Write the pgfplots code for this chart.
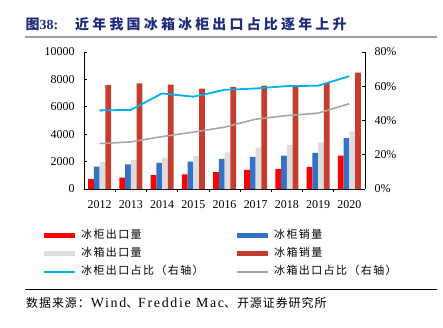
\documentclass[border=0pt]{standalone}
\usepackage{pgfplots}
\usepackage{pgfplotstable}
\pgfplotsset{compat=1.18}
\usepackage{fontspec}
\setmainfont{Liberation Serif}
\newfontfamily\cjk{Noto Sans CJK SC}
\newfontfamily\cjkl[LetterSpace=13]{Noto Sans CJK SC}
\newfontfamily\cjks[LetterSpace=8]{Noto Sans CJK SC}
\newfontfamily\cjkt[LetterSpace=23]{Noto Sans CJK SC}
\newfontfamily\srcl[LetterSpace=12]{Liberation Serif}
\definecolor{cred}{HTML}{FF0000}
\definecolor{cblue}{HTML}{3472C4}
\definecolor{cgray}{HTML}{DDDDDD}
\definecolor{cdred}{HTML}{C43D2E}
\definecolor{lblue}{HTML}{00B0F0}
\definecolor{lgray}{HTML}{A6A6A6}
\definecolor{navy}{HTML}{1F2A7A}

\pgfplotstableread{
x red blue gray dred pblue pgray
0 730 1630 1980 7590 45.9 26.5
1 830 1800 2100 7710 46.2 27.5
2 1020 1900 2290 7610 55.8 30.6
3 1070 2000 2410 7320 53.9 33.2
4 1240 2200 2680 7460 57.9 36.1
5 1390 2340 3020 7540 58.7 40.8
6 1460 2440 3220 7490 60.1 42.9
7 1610 2630 3410 7730 60.3 44.3
8 2440 3710 4200 8490 65.9 49.8
}\data

\pgfplotsset{
  common/.style={
    at={(84bp,138bp)}, anchor=south west,
    scale only axis, width=281bp, height=137bp,
    xmin=-0.5, xmax=8.5,
    tick align=inside,
    major tick length=3bp, minor tick length=3bp,
    axis line style={black, line width=0.6bp},
    every tick/.style={black, line width=0.6bp},
    /pgf/number format/assume math mode=true,
    /pgf/number format/set thousands separator={},
    scaled ticks=false,
    tick label style={font=\fontsize{12}{14}\selectfont},
  }
}

\begin{document}
\begin{tikzpicture}[x=1bp,y=1bp]
\useasboundingbox (0,0) rectangle (443,327);
\node[anchor=west, text=navy, inner sep=0pt, font=\fontsize{14}{16}\selectfont] at (25.5,303)
  {{\cjkt\bfseries 图}{\bfseries 38:}\hspace{17bp}{\cjkt\bfseries 近年我国冰箱冰柜出口占比逐年上升}};
\draw[gray!75, line width=2bp] (25,290.5) -- (437,290.5);

\begin{axis}[common,
  ymin=0, ymax=10000,
  axis x line*=bottom, axis y line*=left,
  ytick={0,2000,...,10000},
  yticklabel style={xshift=-6bp},
  xticklabel style={yshift=-5bp},
  xtick={0,...,8},
  xticklabels={2012,2013,2014,2015,2016,2017,2018,2019,2020},
  minor xtick={0.5,1.5,...,7.5},
  major x tick style={draw=none},
  ybar=0pt, bar width=5.75bp,
]
\addplot[fill=cred, draw=none] table[x=x,y=red]{\data};
\addplot[fill=cblue, draw=none] table[x=x,y=blue]{\data};
\addplot[fill=cgray, draw=none] table[x=x,y=gray]{\data};
\addplot[fill=cdred, draw=none] table[x=x,y=dred]{\data};
\end{axis}

\begin{axis}[common,
  ymin=0, ymax=80,
  axis x line=none, axis y line*=right,
  ytick={0,20,...,80},
  yticklabel style={xshift=6bp},
  yticklabel={\pgfmathprintnumber{\tick}\%},
  legend columns=2,
  legend cell align=left,
  legend image code/.code={\draw (0bp,0bp) -- (31bp,0bp);},
  legend style={at={(-0.153,-0.292)}, anchor=north west, draw=none, fill=none,
    inner sep=0pt, column sep=4bp, row sep=6.35bp,
    font=\fontsize{11}{13}\selectfont\cjkl,
    nodes={inner sep=0pt, text height=9bp, text depth=3bp}},
]
\addlegendimage{cred, line width=5bp}
\addlegendentry{\makebox[149bp][l]{冰柜出口量}}
\addlegendimage{cblue, line width=5bp}
\addlegendentry{冰柜销量}
\addlegendimage{cgray, line width=5bp}
\addlegendentry{\makebox[149bp][l]{冰箱出口量}}
\addlegendimage{cdred, line width=5bp}
\addlegendentry{冰箱销量}
\addplot[lblue, line width=1.8bp] table[x=x,y=pblue]{\data};
\addlegendentry{\makebox[149bp][l]{冰柜出口占比（右轴）}}
\addplot[lgray, line width=1.6bp] table[x=x,y=pgray]{\data};
\addlegendentry{冰箱出口占比（右轴）}
\end{axis}

\draw[black, line width=0.8bp] (25,38) -- (437,38);
\node[anchor=west, inner sep=0pt, font=\fontsize{12}{14}\selectfont] at (26,23.7)
  {{\cjks 数据来源：}\hspace{1bp}{\fontsize{14}{16}\selectfont\srcl Wind}{\cjks 、}{\fontsize{14}{16}\selectfont\srcl Freddie Mac}{\cjks 、开源证券研究所}};
\end{tikzpicture}
\end{document}
